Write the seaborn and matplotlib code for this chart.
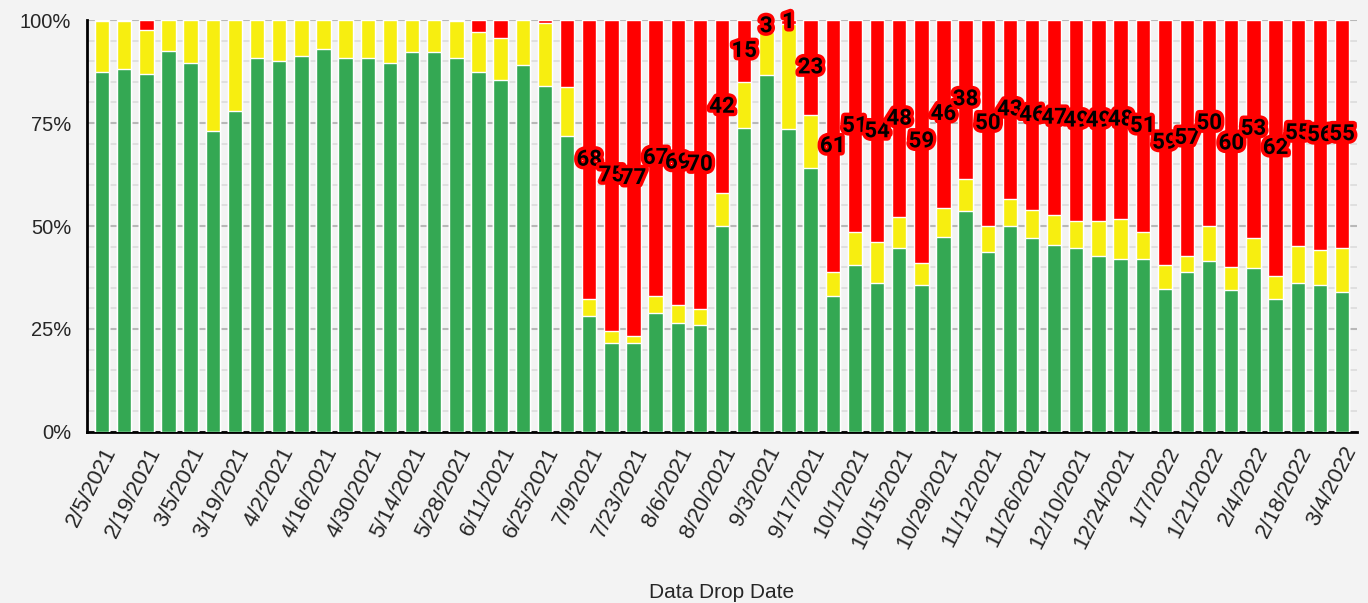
import pandas as pd
import matplotlib
matplotlib.use("Agg")
import matplotlib.pyplot as plt
import matplotlib.patheffects as pe
from matplotlib.ticker import MultipleLocator, PercentFormatter
import seaborn as sns

# ======================================
# DATA
# ======================================
drop_dates = pd.date_range("2021-02-05", periods=57, freq="7D")
date_labels = [f"{d.month}/{d.day}/{d.year}" for d in drop_dates]

# top of the green segment (%)
green_pct = [87.3, 88.2, 86.8, 92.6, 89.6, 73.0, 78.0, 90.9, 90.0, 91.2,
             93.0, 90.9, 90.9, 89.6, 92.2, 92.2, 90.9, 87.3, 85.5, 89.0,
             84.1, 71.8, 28.2, 21.5, 21.5, 29.0, 26.5, 26.0, 49.9, 73.9,
             86.7, 73.5, 64.1, 33.1, 40.6, 36.2, 44.7, 35.8, 47.3, 53.6,
             43.7, 49.9, 47.2, 45.5, 44.6, 42.8, 41.9, 41.9, 34.8, 38.8,
             41.5, 34.4, 39.7, 32.2, 36.2, 35.8, 34.0]

# top of the yellow segment (%), red fills the rest up to 100
yellow_top_pct = [99.7, 99.7, 97.5, 100, 100, 100, 100, 100, 100, 100,
                  100, 100, 100, 100, 100, 100, 99.7, 97.0, 95.6, 100,
                  99.2, 83.7, 32.2, 24.6, 23.3, 33.1, 30.8, 29.9, 57.9, 85.0,
                  97.0, 99.0, 77.0, 38.8, 48.6, 46.0, 52.1, 41.1, 54.4, 61.5,
                  49.9, 56.6, 53.9, 52.6, 51.2, 51.2, 51.7, 48.6, 40.5, 42.8,
                  49.9, 40.1, 47.2, 37.9, 45.1, 44.2, 44.6]

red_labels = [None] * 22 + [68, 75, 77, 67, 69, 70, 42, 15, 3, 1,
                            23, 61, 51, 54, 48, 59, 46, 38, 50, 43,
                            46, 47, 49, 49, 48, 51, 59, 57, 50, 60,
                            53, 62, 55, 56, 55]

GREEN = "#34A853"
YELLOW = "#F7EE10"
RED = "#FF0000"
BG = "#F3F3F3"

df = pd.DataFrame({
    "date": date_labels,
    "green": green_pct,
    "yellow_top": yellow_top_pct,
    "red_top": [100] * len(date_labels),
})

# ======================================
# PLOT
# ======================================
sns.set_style("white")
plt.rcParams["font.family"] = ["Liberation Sans", "DejaVu Sans"]

fig = plt.figure(figsize=(13.68, 6.03), dpi=100, facecolor=BG)
ax = fig.add_axes([0.0636, 0.2836, 0.9284, 0.6832])
ax.set_facecolor(BG)

for col, colour in [("red_top", RED), ("yellow_top", YELLOW), ("green", GREEN)]:
    sns.barplot(data=df, x="date", y=col, color=colour, saturation=1,
                width=0.65, errorbar=None, ax=ax, zorder=3)

# labels in the middle of the red segment
for i, lab in enumerate(red_labels):
    if lab is None:
        continue
    y = (yellow_top_pct[i] + 100) / 2
    ax.text(i, y, str(lab), ha="center", va="center", fontsize=16,
            fontweight="bold", family=["Roboto", "DejaVu Sans"], color="black",
            zorder=5,
            path_effects=[pe.withStroke(linewidth=5, foreground=RED)])

ax.set_ylim(0, 100)
ax.set_xlim(-0.68, len(date_labels) - 0.32)
ax.yaxis.set_major_locator(MultipleLocator(25))
ax.yaxis.set_minor_locator(MultipleLocator(5))
ax.yaxis.set_major_formatter(PercentFormatter(decimals=0))
ax.grid(axis="y", which="major", color="#b8b8b8", linewidth=1.5, zorder=0)
ax.grid(axis="y", which="minor", color="#dcdcdc", linewidth=1.2, zorder=0)
ax.set_axisbelow(True)

ax.set_xticks(range(0, len(date_labels), 2))
ax.set_xticklabels(date_labels[::2], rotation=63, ha="right",
                   rotation_mode="anchor", fontsize=16)
ax.tick_params(axis="x", length=0, pad=8)
ax.tick_params(axis="y", which="major", direction="inout", length=15,
               width=1.8, labelsize=14.5, pad=4)
ax.tick_params(axis="y", which="minor", direction="inout", length=8, width=1.8)

for side in ["top", "right"]:
    ax.spines[side].set_visible(False)
ax.spines["left"].set_linewidth(2)
ax.spines["bottom"].set_linewidth(2)
ax.spines["left"].set_color("black")
ax.spines["bottom"].set_color("black")

ax.set_ylabel("")
ax.set_xlabel("Data Drop Date", fontsize=15, labelpad=22)

fig.savefig("out.png", dpi=100, facecolor=BG)
